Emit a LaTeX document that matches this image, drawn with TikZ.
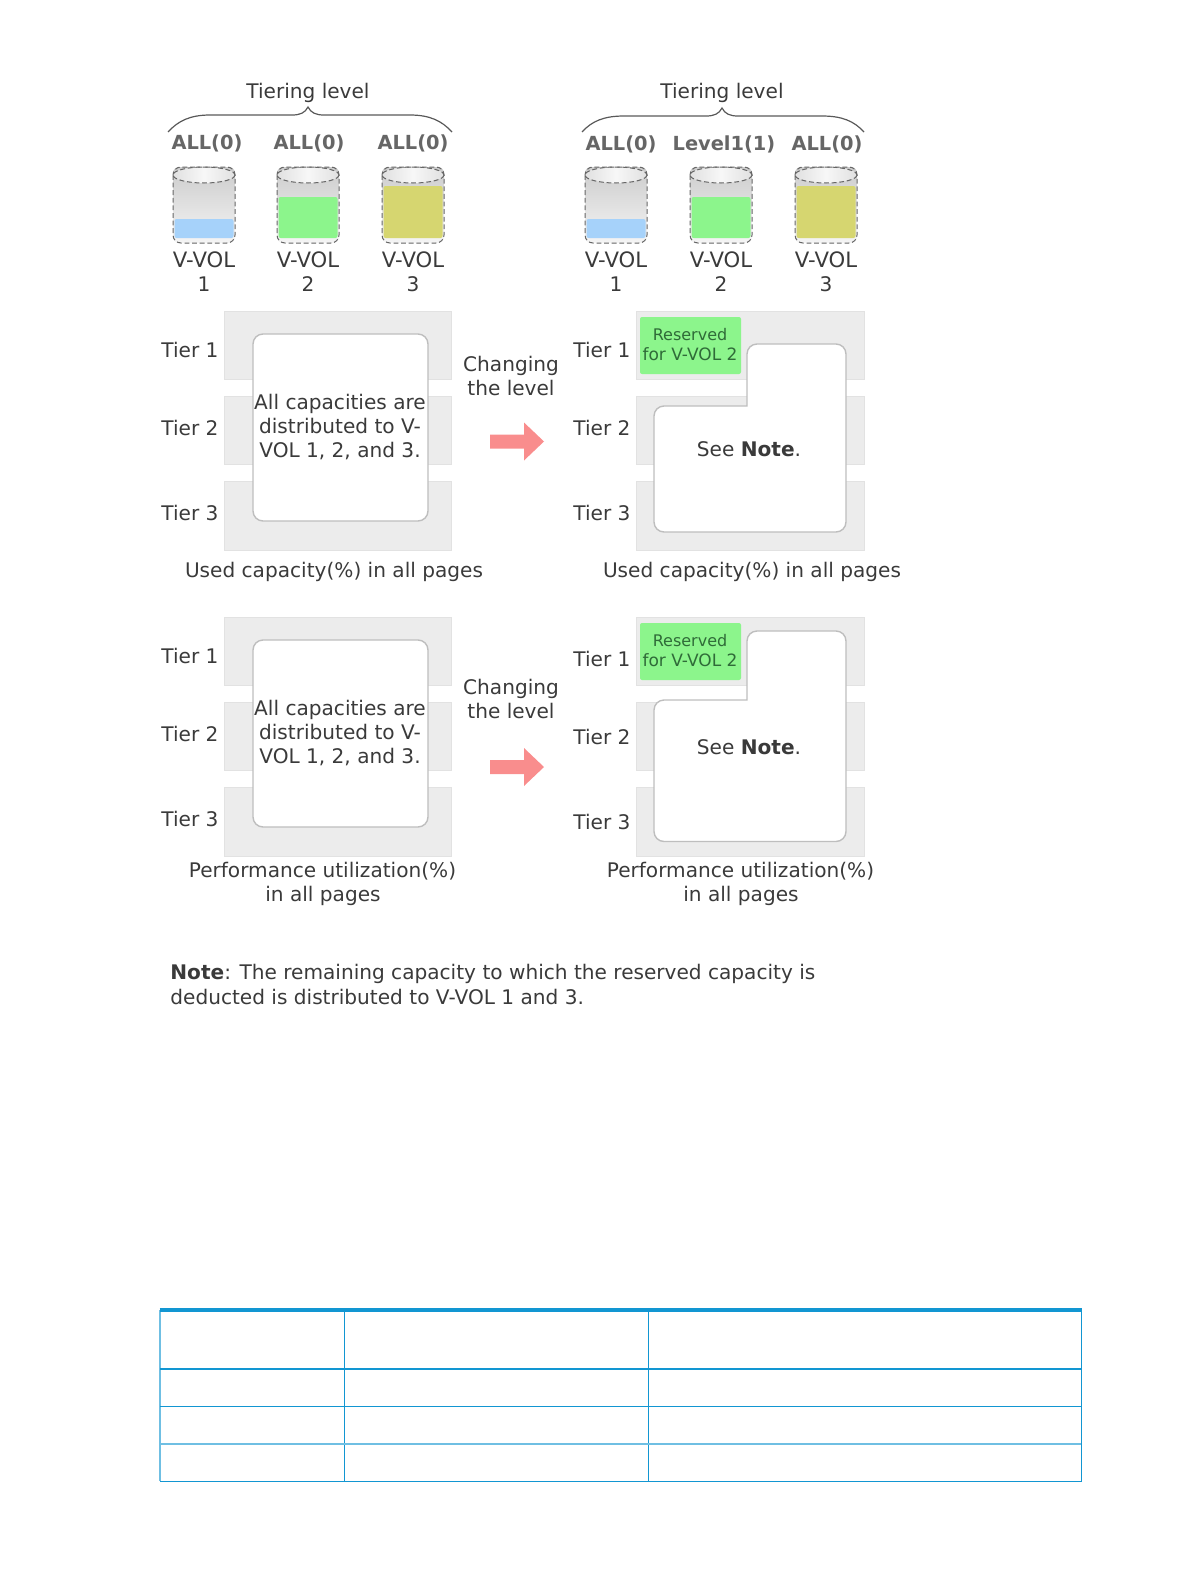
\documentclass[tikz,border=0pt]{standalone}
\usepackage{fontspec}
\setmainfont{DejaVu Sans}
\definecolor{txt}{HTML}{3A3A3A}
\definecolor{lvl}{HTML}{666666}
\definecolor{tierfill}{HTML}{ECECEC}
\definecolor{tierline}{HTML}{E2E2E2}
\definecolor{boxline}{HTML}{BEBEBE}
\definecolor{grn}{HTML}{8CF58C}
\definecolor{blu}{HTML}{A6D2FA}
\definecolor{yel}{HTML}{D6D670}
\definecolor{arrowred}{HTML}{F98D8D}
\definecolor{tbl}{HTML}{1296D2}
\definecolor{tbllight}{HTML}{6FBFE3}
\definecolor{resvtxt}{HTML}{2F6B38}
\tikzset{
  lbl/.style={font=\fontsize{10.05}{12}\selectfont,text=txt,inner sep=0pt,align=center,yshift=-0.9pt},
  vollbl/.style={font=\fontsize{10.6}{12}\selectfont,text=txt,inner sep=0pt,align=center,yshift=-0.9pt},
  lvlbl/.style={font=\fontsize{9.7}{11}\selectfont\bfseries,text=lvl,inner sep=0pt,yshift=-0.3pt},
  resv/.style={font=\fontsize{8}{9.2}\selectfont,text=resvtxt,inner sep=0pt,align=center},
  resvb/.style={font=\fontsize{8.5}{9.2}\selectfont,text=resvtxt,inner sep=0pt,align=center},
  tierbar/.style={fill=tierfill,draw=tierline,line width=0.5pt},
  capbox/.style={fill=white,draw=boxline,line width=0.7pt,rounded corners=5pt},
  lbox/.style={fill=white,draw=boxline,line width=0.7pt,sharp corners},
  volline/.style={draw=black!60,dashed,dash pattern=on 2.4pt off 1.4pt,line width=0.5pt},
  redarrow/.style={fill=arrowred,draw=none},
  tline/.style={draw=tbl,line width=0.5pt},
  tlight/.style={draw=tbllight,line width=0.6pt},
  tthick/.style={draw=tbl,line width=1.2pt},
}
% #1 prefix, #2 x centre, #3 fill top y, #4 fill colour, #5 caption number
\newcommand{\volcyl}[5]{%
  \shade[top color=black!20,bottom color=black!4,rounded corners=3pt]
    (#2-31,167) rectangle (#2+31,243);
  \shade[left color=black!12,right color=black!12,middle color=black!3]
    (#2,175) ellipse [x radius=31,y radius=8];
  \fill[#4,rounded corners=1pt] (#2-29.5,#3) rectangle (#2+29.5,238);
  \draw[volline,rounded corners=4pt] (#2-31,167) rectangle (#2+31,243);
  \draw[volline] (#2,175) ellipse [x radius=31,y radius=8];
  \node[vollbl] (#1v) at (#2,258) {V-VOL};
  \node[lbl] (#1n) at (#2,282) {#5};
}
% #1 x offset, #2 y offset
\newcommand{\tierbars}[2]{%
  \draw[tierbar] (224+#1,311+#2) rectangle (451.5+#1,379+#2);
  \draw[tierbar] (224+#1,396+#2) rectangle (451.5+#1,464+#2);
  \draw[tierbar] (224+#1,481+#2) rectangle (451.5+#1,550+#2);
}
% #1 prefix, #2 y offset
\newcommand{\leftpanel}[2]{%
  \tierbars{0}{#2}
  \draw[capbox] (253,334+#2) rectangle (428,521+#2);
  \node[lbl] (#1a) at (190,348+#2) {Tier 1};
  \node[lbl] (#1b) at (190,426+#2) {Tier 2};
  \node[lbl] (#1c) at (190,511+#2) {Tier 3};
  \node[lbl] (#1t1) at (340,402+#2) {All capacities are};
  \node[lbl] (#1t2) at (340,424+#2) {distributed to V-};
  \node[lbl] (#1t3) at (340,449+#2) {VOL 1, 2, and 3.};
}
% #1 prefix, #2 tier1 y, #3 tier2 y, #4 tier3 y, #5 box top, #6 step, #7 box bottom, #8 note y
\newcommand{\rightpanel}[8]{%
  \draw[lbox] (664,#7) .. controls (658.5,#7) and (654,#7-4.5) .. (654,#7-10)
    -- (654,#6+10) .. controls (654,#6+4.5) and (658.5,#6) .. (664,#6)
    -- (747,#6) -- (747,#5+10) .. controls (747,#5+4.5) and (751.5,#5) .. (757,#5)
    -- (836,#5) .. controls (841.5,#5) and (846,#5+4.5) .. (846,#5+10)
    -- (846,#7-10) .. controls (846,#7-4.5) and (841.5,#7) .. (836,#7) -- cycle;
  \node[lbl] (#1a) at (602,#2) {Tier 1};
  \node[lbl] (#1b) at (602,#3) {Tier 2};
  \node[lbl] (#1c) at (602,#4) {Tier 3};
  \node[lbl] (#1n) at (749,#8) {See \textbf{Note}.};
}
% #1 prefix, #2 green top
\newcommand{\resbox}[2]{%
  \fill[grn,rounded corners=1pt] (640,#2) rectangle (741,#2+57);
  \node[resv] (#1r1) at (690,#2+18) {Reserved};
  \node[resvb] (#1r2) at (690,#2+37) {for V-VOL 2};
}
% #1 y centre
\newcommand{\bigarrow}[1]{%
  \fill[redarrow] (490,#1-7) -- (524,#1-7) -- (524,#1-19) -- (544,#1) -- (524,#1+19) -- (524,#1+7) -- (490,#1+7) -- cycle;
}
\begin{document}
\begin{tikzpicture}[x=0.5pt,y=-0.5pt]
\useasboundingbox (0,0) rectangle (1189,1584);
% --- top left
\node[lbl] (tl1) at (308,91) {Tiering level};
\draw[black!65,line width=0.6pt] (168,132) .. controls (178,121) and (190,115) .. (210,115) -- (292,115) .. controls (300,115) and (305,113) .. (308,107) .. controls (311,113) and (316,115) .. (324,115) -- (410,115) .. controls (430,115) and (442,121) .. (452,132);
\node[lvlbl] (a1) at (207,143) {ALL(0)};
\node[lvlbl] (a2) at (309,143) {ALL(0)};
\node[lvlbl] (a3) at (413,143) {ALL(0)};
\volcyl{c1}{204}{219}{blu}{1}
\volcyl{c2}{308}{197}{grn}{2}
\volcyl{c3}{413}{186}{yel}{3}
% --- top right
\node[lbl] (tl2) at (722,91) {Tiering level};
\draw[black!65,line width=0.6pt] (582,132) .. controls (592,121) and (604,116) .. (624,116) -- (706,116) .. controls (714,116) and (719,114) .. (722,108) .. controls (725,114) and (730,116) .. (738,116) -- (822,116) .. controls (842,116) and (854,121) .. (864,132);
\node[lvlbl] (b1) at (621,144) {ALL(0)};
\node[lvlbl] (b2) at (724,144) {Level1(1)};
\node[lvlbl] (b3) at (827,144) {ALL(0)};
\volcyl{d1}{616}{219}{blu}{1}
\volcyl{d2}{721}{197}{grn}{2}
\volcyl{d3}{826}{186}{yel}{3}
% --- row 1
\leftpanel{p}{0}
\node[lbl] (ch1) at (511,364) {Changing};
\node[lbl] (ch2) at (511,386) {the level};
\bigarrow{441.5}
\tierbars{412.5}{0}
\resbox{q}{317}
\rightpanel{q}{348}{426}{511}{344}{406}{532}{447}
\node[lbl] (u1) at (334,570) {Used capacity(\%) in all pages};
\node[lbl] (u2) at (752,570) {Used capacity(\%) in all pages};
% --- row 2
\leftpanel{s}{306}
\node[lbl] (ch3) at (511,687) {Changing};
\node[lbl] (ch4) at (511,709) {the level};
\bigarrow{767}
\tierbars{412.5}{306}
\resbox{t}{623}
\rightpanel{t}{657}{735.5}{820}{631}{700}{841.5}{745}
\node[lbl] (w1) at (322.5,869) {Performance utilization(\%)};
\node[lbl] (w2) at (323,894) {in all pages};
\node[lbl] (w3) at (740.5,869) {Performance utilization(\%)};
\node[lbl] (w4) at (741,894) {in all pages};
% --- note
\node[lbl,anchor=west] (n1) at (170,972) {\textbf{Note}: The remaining capacity to which the reserved capacity is};
\node[lbl,anchor=west] (n2) at (170,995) {deducted is distributed to V-VOL 1 and 3.};
% --- table
\draw[tline] (1081,1310) -- (1081,1481) -- (160,1481);
\draw[tlight] (160,1481) -- (160,1310);
\draw[tline] (344,1310) -- (344,1481);
\draw[tline] (648,1310) -- (648,1481);
\draw[tline] (160,1406) -- (1081,1406);
\draw[tlight] (160,1444) -- (1081,1444);
\draw[tthick] (160,1369) -- (1081,1369);
\draw[draw=tbl,line width=2pt] (159.5,1310) -- (1081.5,1310);
\end{tikzpicture}
\end{document}
